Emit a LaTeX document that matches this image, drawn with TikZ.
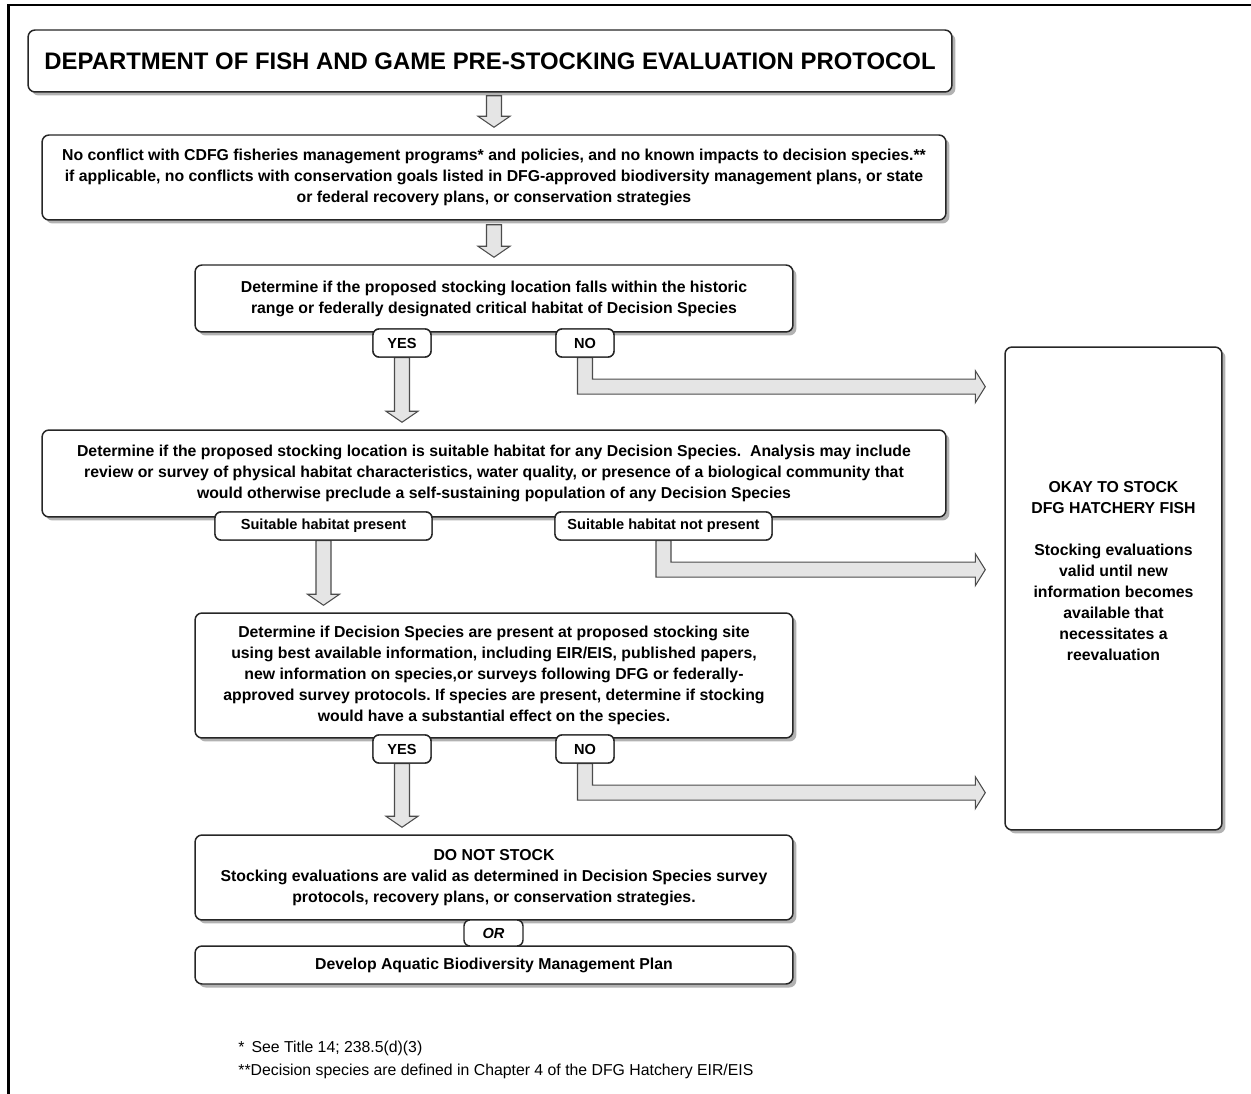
\documentclass[tikz,border=0pt]{standalone}
\usepackage{fontspec}
\setmainfont{Liberation Sans}
\usetikzlibrary{calc,shadows}
\frenchspacing
\newcommand\bfnt{\fontsize{9}{11.95}\selectfont\bfseries}
\newcommand\lblfnt{\fontsize{8.3}{10}\selectfont\bfseries}
\newcommand\ttlfnt{\fontsize{13.6}{16}\selectfont\bfseries}
\newcommand\ftfnt{\fontsize{9}{11}\selectfont}
\newcommand\arrdown[2]{\draw[blk] let \p1=#1, \p2=#2 in
  (\x1-0.15cm,\y1) -- (\x1-0.15cm,\y2+0.36cm) -- (\x1-0.32cm,\y2+0.36cm) --
  (\x1,\y2+0.14cm) -- (\x1+0.32cm,\y2+0.36cm) -- (\x1+0.15cm,\y2+0.36cm) --
  (\x1+0.15cm,\y1) -- cycle;}
\newcommand\arrcorner[2]{\draw[blk] let \p1=#1, \p2=#2 in
  (\x1-0.15cm,\y1) -- (\x1-0.15cm,\y1-0.73cm) -- (\x2-0.58cm,\y1-0.73cm) --
  (\x2-0.58cm,\y1-0.9cm) -- (\x2-0.38cm,\y1-0.58cm) -- (\x2-0.58cm,\y1-0.26cm) --
  (\x2-0.58cm,\y1-0.43cm) -- (\x1+0.15cm,\y1-0.43cm) -- (\x1+0.15cm,\y1) -- cycle;}
\begin{document}
\begin{tikzpicture}[x=0.02cm,y=-0.02cm,
  box/.style={draw=black!85, line width=0.85pt, rounded corners=0.14cm, fill=white,
    align=center, font=\bfnt, inner sep=0pt,
    drop shadow={shadow xshift=0.07cm, shadow yshift=-0.07cm, fill=black!30, opacity=1}},
  lbl/.style={draw=black!85, line width=0.8pt, rounded corners=0.12cm, fill=white,
    align=center, font=\lblfnt, inner sep=0pt, minimum height=0.56cm},
  blk/.style={draw=black!70, line width=0.6pt, fill=black!10, line join=miter},
  foot/.style={anchor=base west, font=\ftfnt, inner sep=0pt}]
\useasboundingbox (0,0) rectangle (1251,1094);
\draw[line width=1.4pt] (1251,5) -- (8.5,5) -- (8.5,1094);

% boxes
\node[box, minimum width=18.48cm, minimum height=1.24cm, font=\ttlfnt] (title) at (490,61)
  {DEPARTMENT OF FISH AND GAME PRE-STOCKING EVALUATION PROTOCOL};
\node[box, minimum width=18.08cm, minimum height=1.70cm] (b1) at (494,177.5)
  {No conflict with CDFG fisheries management programs* and policies, and no known impacts to decision species.**\\
   if applicable, no conflicts with conservation goals listed in DFG-approved biodiversity management plans, or state\\
   or federal recovery plans, or conservation strategies};
\node[box, minimum width=11.96cm, minimum height=1.34cm] (b2) at (494,298.5)
  {Determine if the proposed stocking location falls within the historic\\
   range or federally designated critical habitat of Decision Species};
\node[box, minimum width=18.08cm, minimum height=1.74cm] (b3) at (494,473.5)
  {Determine if the proposed stocking location is suitable habitat for any Decision Species.\ \ Analysis may include\\
   review or survey of physical habitat characteristics, water quality, or presence of a biological community that\\
   would otherwise preclude a self-sustaining population of any Decision Species};
\node[box, minimum width=11.96cm, minimum height=2.50cm] (b4) at (494,675.5)
  {Determine if Decision Species are present at proposed stocking site\\
   using best available information, including EIR/EIS, published papers,\\
   new information on species,or surveys following DFG or federally-\\
   approved survey protocols. If species are present, determine if stocking\\
   would have a substantial effect on the species.};
\node[box, minimum width=11.96cm, minimum height=1.70cm] (b5) at (494,877.5)
  {DO NOT STOCK\\
   Stocking evaluations are valid as determined in Decision Species survey\\
   protocols, recovery plans, or conservation strategies.};
\node[box, minimum width=11.96cm, minimum height=0.76cm] (b6) at (494,965)
  {Develop Aquatic Biodiversity Management Plan};
\node[box, minimum width=4.34cm, minimum height=9.66cm] (ok) at (1113.5,588.5) {};
\node[align=center, font=\bfnt, inner sep=0pt] (oktext) at (1113.5,571)
  {OKAY TO STOCK\\DFG HATCHERY FISH\\[11.95pt]Stocking evaluations\\valid until new\\
   information becomes\\available that\\necessitates a\\reevaluation};

% label positions
\coordinate (yes1c) at (402,343);
\coordinate (no1c) at (585,343);
\coordinate (shpc) at (323.5,526);
\coordinate (shnpc) at (663.5,526);
\coordinate (yes2c) at (402,749);
\coordinate (no2c) at (585,749);

\path (yes1c) node[lbl, minimum width=1.16cm] (yes1) {YES}
      (no1c) node[lbl, minimum width=1.16cm] (no1) {NO}
      (shpc) node[lbl, minimum width=4.34cm] (shp) {Suitable habitat present}
      (shnpc) node[lbl, minimum width=4.34cm] (shnp) {Suitable habitat not present}
      (yes2c) node[lbl, minimum width=1.16cm] (yes2) {YES}
      (no2c) node[lbl, minimum width=1.16cm] (no2) {NO};

% arrows
\arrdown{($(title.south -| b1.north)+(0,-0.06cm)$)}{(b1.north)}
\arrdown{($(b1.south)+(0,-0.08cm)$)}{(b2.north)}
\arrdown{(yes1.south)}{(b3.north)}
\arrdown{(shp.south)}{(b4.north)}
\arrdown{(yes2.south)}{(b5.north)}
\arrcorner{(no1.south)}{(ok.west)}
\arrcorner{(shnp.south)}{(ok.west)}
\arrcorner{(no2.south)}{(ok.west)}

% labels on top
\path (yes1c) node[lbl, minimum width=1.16cm] {YES}
      (no1c) node[lbl, minimum width=1.16cm] {NO}
      (shpc) node[lbl, minimum width=4.34cm] {Suitable habitat present}
      (shnpc) node[lbl, minimum width=4.34cm] {Suitable habitat not present}
      (yes2c) node[lbl, minimum width=1.16cm] {YES}
      (no2c) node[lbl, minimum width=1.16cm] {NO};
\node[lbl, minimum width=1.18cm, minimum height=0.52cm, font=\lblfnt\itshape] (or) at (493.5,933) {OR};

% footnotes
\node[foot] (f1) at (238,1052) {*\ \,See Title 14; 238.5(d)(3)};
\node[foot] (f2) at (238,1075) {**Decision species are defined in Chapter 4 of the DFG Hatchery EIR/EIS};
\end{tikzpicture}
\end{document}
